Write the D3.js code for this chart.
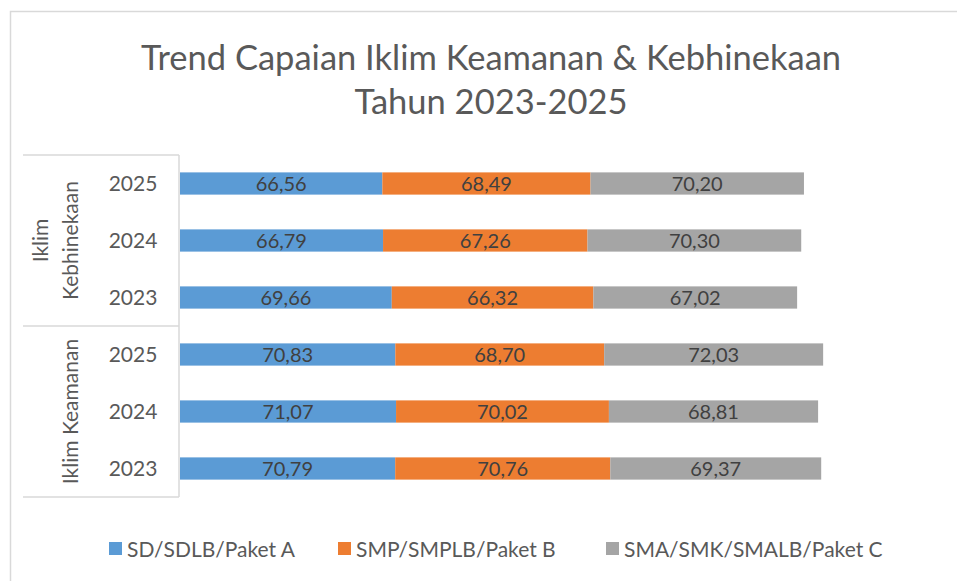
<!DOCTYPE html>
<html><head><meta charset="utf-8">
<script src="https://cdn.jsdelivr.net/npm/d3@7"></script>
<style>body{margin:0;background:#fff}svg{display:block}text{font-family:Lato,"Open Sans",sans-serif}</style>
</head><body><svg id="c" width="957" height="581"></svg>
<script>
const titleLines = ["Trend Capaian Iklim Keamanan & Kebhinekaan", "Tahun 2023-2025"];
const groups = ["Iklim Kebhinekaan", "Iklim Keamanan"];
const groupLabelLines = [["Iklim", "Kebhinekaan"], ["Iklim Keamanan"]];
const years = ["2025", "2024", "2023"];
const seriesNames = ["SD/SDLB/Paket A", "SMP/SMPLB/Paket B", "SMA/SMK/SMALB/Paket C"];
const colors = ["#5b9bd5", "#ed7d31", "#a5a5a5"];
// rows top to bottom: group, year
const sdValues  = [66.56, 66.79, 69.66, 70.83, 71.07, 70.79];
const smpValues = [68.49, 67.26, 66.32, 68.70, 70.02, 70.76];
const smaValues = [70.20, 70.30, 67.02, 72.03, 68.81, 69.37];

const rows = [];
groups.forEach((g, gi) => years.forEach((yr, yi) => rows.push({key: g + "|" + yr, group: g, year: yr, idx: gi * 3 + yi})));
rows.forEach(r => { r.vals = [sdValues[r.idx], smpValues[r.idx], smaValues[r.idx]]; });

const svg = d3.select("#c");
svg.append("rect").attr("x", 10.5).attr("y", 11.5).attr("width", 1000).attr("height", 1000)
  .attr("fill", "none").attr("stroke", "#d9d9d9").attr("stroke-width", 1.5);

svg.selectAll("text.title").data(titleLines).join("text").attr("class", "title")
  .attr("x", 491).attr("y", (d, i) => 69.5 + i * 44).attr("text-anchor", "middle")
  .attr("font-size", 34.5).attr("fill", "#595959").text(d => d);

const plotLeft = 180, plotTop = 155, plotBottom = 497;
const x = d3.scaleLinear().domain([0, 250]).range([plotLeft, plotLeft + 760]);
const y = d3.scaleBand().domain(rows.map(r => r.key)).range([plotTop, plotBottom]).paddingInner(0.61).paddingOuter(0.305);

const stack = d3.stack().keys([0, 1, 2]).value((d, k) => d.vals[k]);
const stacked = stack(rows);

stacked.forEach((layer, si) => {
  const g = svg.append("g");
  g.selectAll("rect").data(layer).join("rect")
    .attr("x", d => x(d[0])).attr("width", d => x(d[1]) - x(d[0]))
    .attr("y", d => y(d.data.key)).attr("height", y.bandwidth())
    .attr("fill", colors[si]);
  g.selectAll("text").data(layer).join("text")
    .attr("x", d => (x(d[0]) + x(d[1])) / 2).attr("y", d => y(d.data.key) + y.bandwidth() / 2)
    .attr("dy", "0.36em").attr("text-anchor", "middle").attr("font-size", 20).attr("fill", "#404040")
    .text(d => d3.format(".2f")(d[1] - d[0]).replace(".", ","));
});

const axisColor = "#d9d9d9";
svg.append("line").attr("x1", 179).attr("x2", 179).attr("y1", plotTop).attr("y2", plotBottom).attr("stroke", axisColor).attr("stroke-width", 1.5);
const sepY = [plotTop, (plotTop + plotBottom) / 2, plotBottom];
svg.selectAll("line.sep").data(sepY).join("line").attr("class", "sep")
  .attr("x1", 23).attr("x2", 179).attr("y1", d => d).attr("y2", d => d)
  .attr("stroke", axisColor).attr("stroke-width", 1.5);

svg.selectAll("text.yr").data(rows).join("text").attr("class", "yr")
  .attr("x", 133).attr("y", r => y(r.key) + y.bandwidth() / 2).attr("dy", "0.36em")
  .attr("text-anchor", "middle").attr("font-size", 21).attr("fill", "#595959").text(r => r.year);

groups.forEach((g, gi) => {
  const cy = plotTop + (plotBottom - plotTop) / 4 * (1 + 2 * gi);
  const lines = groupLabelLines[gi];
  lines.forEach((ln, li) => {
    const cx = 72 - (lines.length - 1 - li) * 30;
    svg.append("text").attr("transform", `translate(${cx + 6},${cy}) rotate(-90)`)
      .attr("text-anchor", "middle").attr("font-size", 21).attr("fill", "#595959").text(ln);
  });
});

const legX = [109, 338, 606];
const leg = svg.selectAll("g.leg").data(seriesNames).join("g").attr("class", "leg")
  .attr("transform", (d, i) => `translate(${legX[i]},542)`);
leg.append("rect").attr("width", 13).attr("height", 13).attr("fill", (d, i) => colors[i]);
leg.append("text").attr("x", 18).attr("y", 7).attr("dy", "0.36em").attr("font-size", 21).attr("fill", "#595959").text(d => d);
</script></body></html>
